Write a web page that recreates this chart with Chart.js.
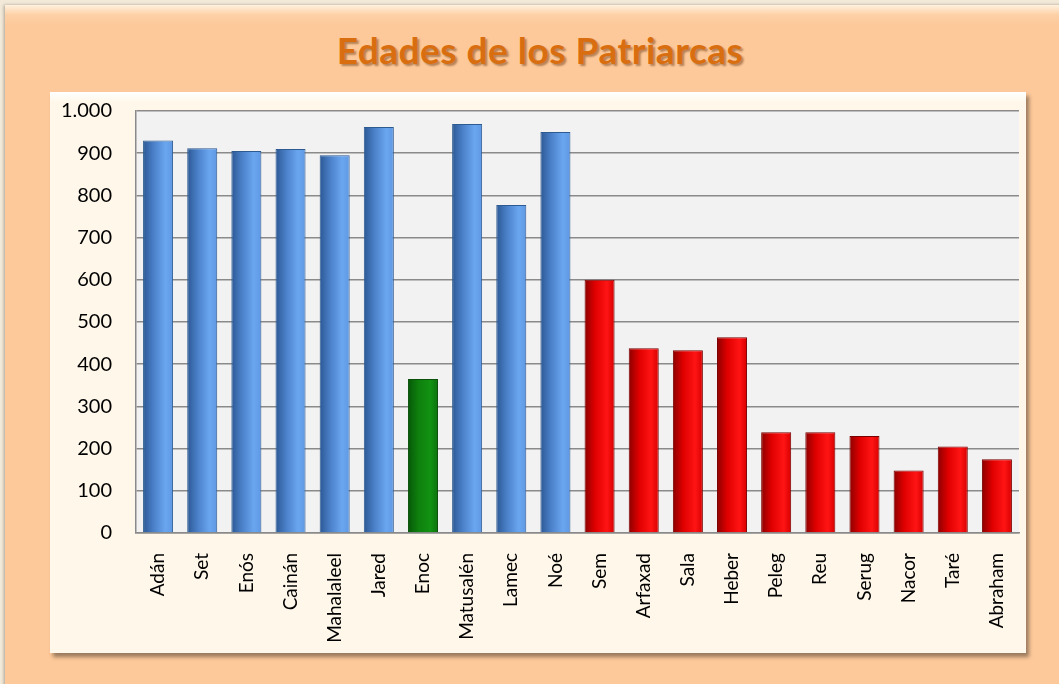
<!DOCTYPE html>
<html>
<head>
<meta charset="utf-8">
<script src="https://cdn.jsdelivr.net/npm/chart.js@4.4.1/dist/chart.umd.min.js"></script>
<style>
  html, body { margin: 0; padding: 0; }
  body { width: 1059px; height: 684px; background: #f3e9d8; position: relative; overflow: hidden; font-family: Lato, sans-serif; }
  .outer {
    position: absolute; left: 5px; top: 5px; width: 1060px; height: 690px;
    background: linear-gradient(#fff1de 0px, #fdd0a6 10px, #fdc99a 20px, #fdc99a 100%);
    box-shadow: -1px 0 3px rgba(0,0,0,0.3);
  }
  h1 {
    position: absolute; left: 0; width: 1080px; top: 27px; margin: 0;
    text-align: center; font: bold 37px Lato, sans-serif; letter-spacing: 0.5px;
    color: #d96e10; text-shadow: 2px 2px 2px rgba(90,40,0,0.45);
  }
  .inner {
    position: absolute; left: 50px; top: 92px; width: 976px; height: 561px;
    background: linear-gradient(#ffffff 0px, #fff8ea 10px, #fff8ea 100%);
    box-shadow: 3px 4px 4px rgba(0,0,0,0.4);
  }
  canvas { display: block; }
</style>
</head>
<body>
<div class="outer"></div>
<h1>Edades de los Patriarcas</h1>
<div class="inner"><canvas id="chartAges" width="976" height="561"></canvas></div>
<script>
const patriarchs = ['Adán', 'Set', 'Enós', 'Cainán', 'Mahalaleel', 'Jared', 'Enoc', 'Matusalén', 'Lamec', 'Noé',
  'Sem', 'Arfaxad', 'Sala', 'Heber', 'Peleg', 'Reu', 'Serug', 'Nacor', 'Taré', 'Abraham'];
const ages = [930, 912, 905, 910, 895, 962, 365, 969, 777, 950,
  600, 438, 433, 464, 239, 239, 230, 148, 205, 175];
const groups = ['blue', 'blue', 'blue', 'blue', 'blue', 'blue', 'green', 'blue', 'blue', 'blue',
  'red', 'red', 'red', 'red', 'red', 'red', 'red', 'red', 'red', 'red'];
const yTicks = [0, 100, 200, 300, 400, 500, 600, 700, 800, 900, 1000];

const shades = {
  blue: { stops: ['#2c5894', '#4a80c8', '#6aa6f0', '#5f98e2'], border: '#2d5a90' },
  green: { stops: ['#075807', '#0e800e', '#129212', '#0b720b'], border: '#0a4f0a' },
  red: { stops: ['#8c0000', '#e00000', '#ff1414', '#d80000'], border: '#7a0000' }
};

function formatNumber(value) {
  return String(value).replace(/\B(?=(\d{3})+(?!\d))/g, '.');
}

function barFill(ctx) {
  const chart = ctx.chart;
  const shade = shades[groups[ctx.dataIndex]];
  if (!chart.chartArea || !chart.scales.x) return shade.stops[2];
  const x = chart.scales.x.getPixelForValue(ctx.dataIndex);
  const half = (chart.chartArea.width / patriarchs.length) * 0.68 / 2;
  const g = chart.ctx.createLinearGradient(x - half, 0, x + half, 0);
  g.addColorStop(0, shade.stops[0]);
  g.addColorStop(0.35, shade.stops[1]);
  g.addColorStop(0.75, shade.stops[2]);
  g.addColorStop(1, shade.stops[3]);
  return g;
}

const plotBackground = {
  id: 'plotBackground',
  beforeDraw(chart) {
    const { ctx, chartArea } = chart;
    ctx.save();
    ctx.fillStyle = '#f2f2f2';
    ctx.fillRect(chartArea.left, chartArea.top, chartArea.width, chartArea.height);
    ctx.restore();
  }
};

new Chart(document.getElementById('chartAges'), {
  type: 'bar',
  data: {
    labels: patriarchs,
    datasets: [{
      data: ages,
      backgroundColor: barFill,
      borderColor: ctx => shades[groups[ctx.dataIndex]].border,
      borderWidth: 1,
      borderSkipped: 'bottom',
      categoryPercentage: 1,
      barPercentage: 0.68
    }]
  },
  options: {
    responsive: false,
    animation: false,
    layout: { padding: { top: 19, right: 7, left: 0, bottom: 0 } },
    plugins: { legend: { display: false }, title: { display: false }, tooltip: { enabled: false } },
    scales: {
      y: {
        min: 0, max: 1000,
        afterFit(scale) {
          scale.width = 86;
          scale.paddingTop = 0;
          scale.paddingBottom = 0;
        },
        afterBuildTicks(scale) { scale.ticks = yTicks.map(v => ({ value: v })); },
        ticks: {
          color: '#000', padding: 24,
          font: { family: 'Lato', size: 20 },
          callback: v => formatNumber(v)
        },
        grid: { color: '#8a8a8a', lineWidth: 1.5, drawTicks: false },
        border: { color: '#8a8a8a', width: 1.5 }
      },
      x: {
        afterFit(scale) {
          scale.height = 120;
          scale.paddingLeft = 0;
          scale.paddingRight = 0;
        },
        ticks: {
          color: '#000', padding: 12, maxRotation: 90, minRotation: 90, autoSkip: false,
          font: { family: 'Lato', size: 19 }
        },
        grid: { display: false },
        border: { color: '#8a8a8a', width: 1.5 }
      }
    }
  },
  plugins: [plotBackground]
});
</script>
</body>
</html>
